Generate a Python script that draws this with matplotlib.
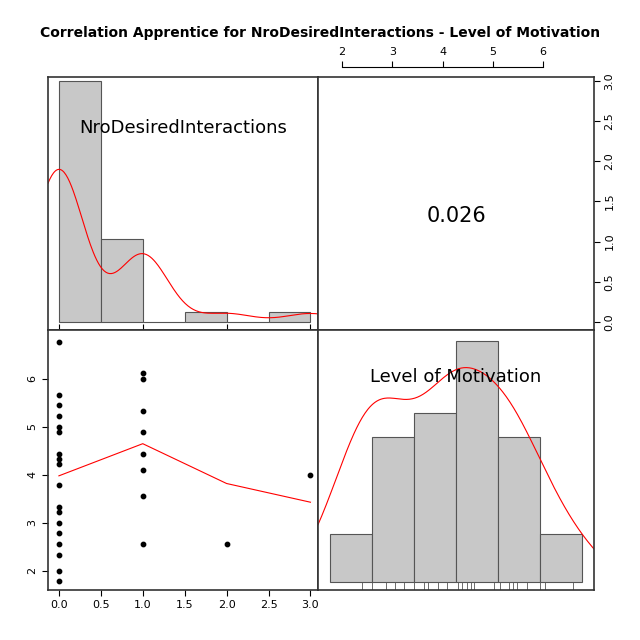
import numpy as np
import matplotlib.pyplot as plt

# data
interactions = [0]*18 + [1]*8 + [2, 3]
motivation = [6.78, 5.67, 5.45, 5.22, 5.0, 4.89, 4.44, 4.33, 4.22, 3.78, 3.33, 3.22, 3.0, 2.78, 2.56, 2.33, 2.0, 1.78,
              6.12, 6.0, 5.33, 4.89, 4.44, 4.11, 3.56, 2.56,
              2.56, 4.0]
inter_bins = [0, 0.5, 1.0, 1.5, 2.0, 2.5, 3.0]
inter_heights = [3.0, 1.03, 0.0, 0.13, 0.0, 0.13]
mot_edges = [1.76, 2.6, 3.43, 4.27, 5.1, 5.94, 6.78]
mot_counts = [2, 6, 7, 10, 6, 2]
mot_rug = [2.4, 2.59, 2.88, 3.06, 3.24, 3.43, 3.63, 3.71, 3.9, 4.08, 4.3, 4.38, 4.48, 4.56, 4.63,
           5.03, 5.14, 5.31, 5.39, 5.48, 5.67, 5.94, 6.04, 6.59]
smooth_x = [0, 1, 2, 3]
smooth_y = [3.98, 4.65, 3.82, 3.43]
corr_text = "0.026"


def kde(data, grid, bw):
    data = np.asarray(data, float)
    return np.exp(-0.5 * ((grid[:, None] - data[None, :]) / bw) ** 2).sum(1)


fig = plt.figure(figsize=(6.4, 6.4), dpi=100)
L, M, R = 48/640, 318/640, 594/640
T, H, B = 1-77/640, 1-330/640, 1-590/640
tick_kw = dict(labelsize=8, length=4, width=0.8)

ax1 = fig.add_axes([L, H, M-L, T-H])
ax2 = fig.add_axes([M, H, R-M, T-H])
ax3 = fig.add_axes([L, B, M-L, H-B])
ax4 = fig.add_axes([M, B, R-M, H-B])

# top-left: histogram of interactions
ax1.bar(inter_bins[:-1], inter_heights, width=0.5, align='edge', color='#c8c8c8', edgecolor='#555555', lw=0.8)
g = np.linspace(-0.13, 3.09, 300)
d = kde(interactions, g, 0.3)
ax1.plot(g, d / d.max() * 1.9, color='red', lw=0.8)
ax1.set_xlim(-0.13, 3.09)
ax1.set_ylim(-0.1, 3.05)
ax1.set_xticks([0, 1, 2, 3])
ax1.set_xticklabels([])
ax1.set_yticks([])
ax1.tick_params(axis='x', direction='in', **tick_kw)
ax1.text(0.5, 0.8, "NroDesiredInteractions", transform=ax1.transAxes, ha='center', va='center', fontsize=13)

# top-right: correlation
ax2.set_xlim(1.52, 7.01)
ax2.set_ylim(-0.1, 3.05)
ax2.set_xticks([])
ax2.yaxis.tick_right()
ax2.set_yticks([0, 0.5, 1.0, 1.5, 2.0, 2.5, 3.0])
ax2.set_yticklabels(['0.0', '0.5', '1.0', '1.5', '2.0', '2.5', '3.0'], rotation=90, va='center')
ax2.tick_params(**tick_kw)
ax2.text(0.5, 0.45, corr_text, transform=ax2.transAxes, ha='center', va='center', fontsize=15)
sec = ax2.secondary_xaxis('top')
sec.set_xticks([2, 3, 4, 5, 6])
sec.tick_params(**tick_kw)
sec.spines['top'].set_position(('outward', 7))
sec.spines['top'].set_bounds(2, 6)
sec.spines['top'].set_linewidth(0.8)

# bottom-left: scatter
ax3.scatter(interactions, motivation, s=10, color='black', zorder=3)
ax3.plot(smooth_x, smooth_y, color='red', lw=0.8)
ax3.set_xlim(-0.13, 3.09)
ax3.set_ylim(1.6, 7.02)
ax3.set_xticks([0, 0.5, 1, 1.5, 2, 2.5, 3])
ax3.set_xticklabels(['0.0', '0.5', '1.0', '1.5', '2.0', '2.5', '3.0'])
ax3.set_yticks([2, 3, 4, 5, 6])
ax3.set_yticklabels(['2', '3', '4', '5', '6'], rotation=90, va='center')
ax3.tick_params(**tick_kw)

# bottom-right: histogram of motivation
w = np.diff(mot_edges)
ax4.bar(mot_edges[:-1], mot_counts, width=w, align='edge', color='#c8c8c8', edgecolor='#555555', lw=0.8)
g = np.linspace(1.52, 7.01, 300)
d = kde(motivation, g, 0.55)
ax4.plot(g, d / d.max() * 8.9, color='red', lw=0.8)
ax4.vlines(mot_rug, -0.33, 0, color='#555555', lw=0.6)
ax4.set_xlim(1.52, 7.01)
ax4.set_ylim(-0.33, 10.46)
ax4.set_xticks([])
ax4.set_yticks([])
ax4.text(0.5, 0.82, "Level of Motivation", transform=ax4.transAxes, ha='center', va='center', fontsize=13)

for a in (ax1, ax2, ax3, ax4):
    for s in a.spines.values():
        s.set_linewidth(1.2)
        s.set_color('#333333')

fig.text(0.5, 1-33/640, "Correlation Apprentice for NroDesiredInteractions - Level of Motivation",
         ha='center', va='center', fontsize=10, fontweight='bold')
fig.savefig("out.png", dpi=100, facecolor='white')
